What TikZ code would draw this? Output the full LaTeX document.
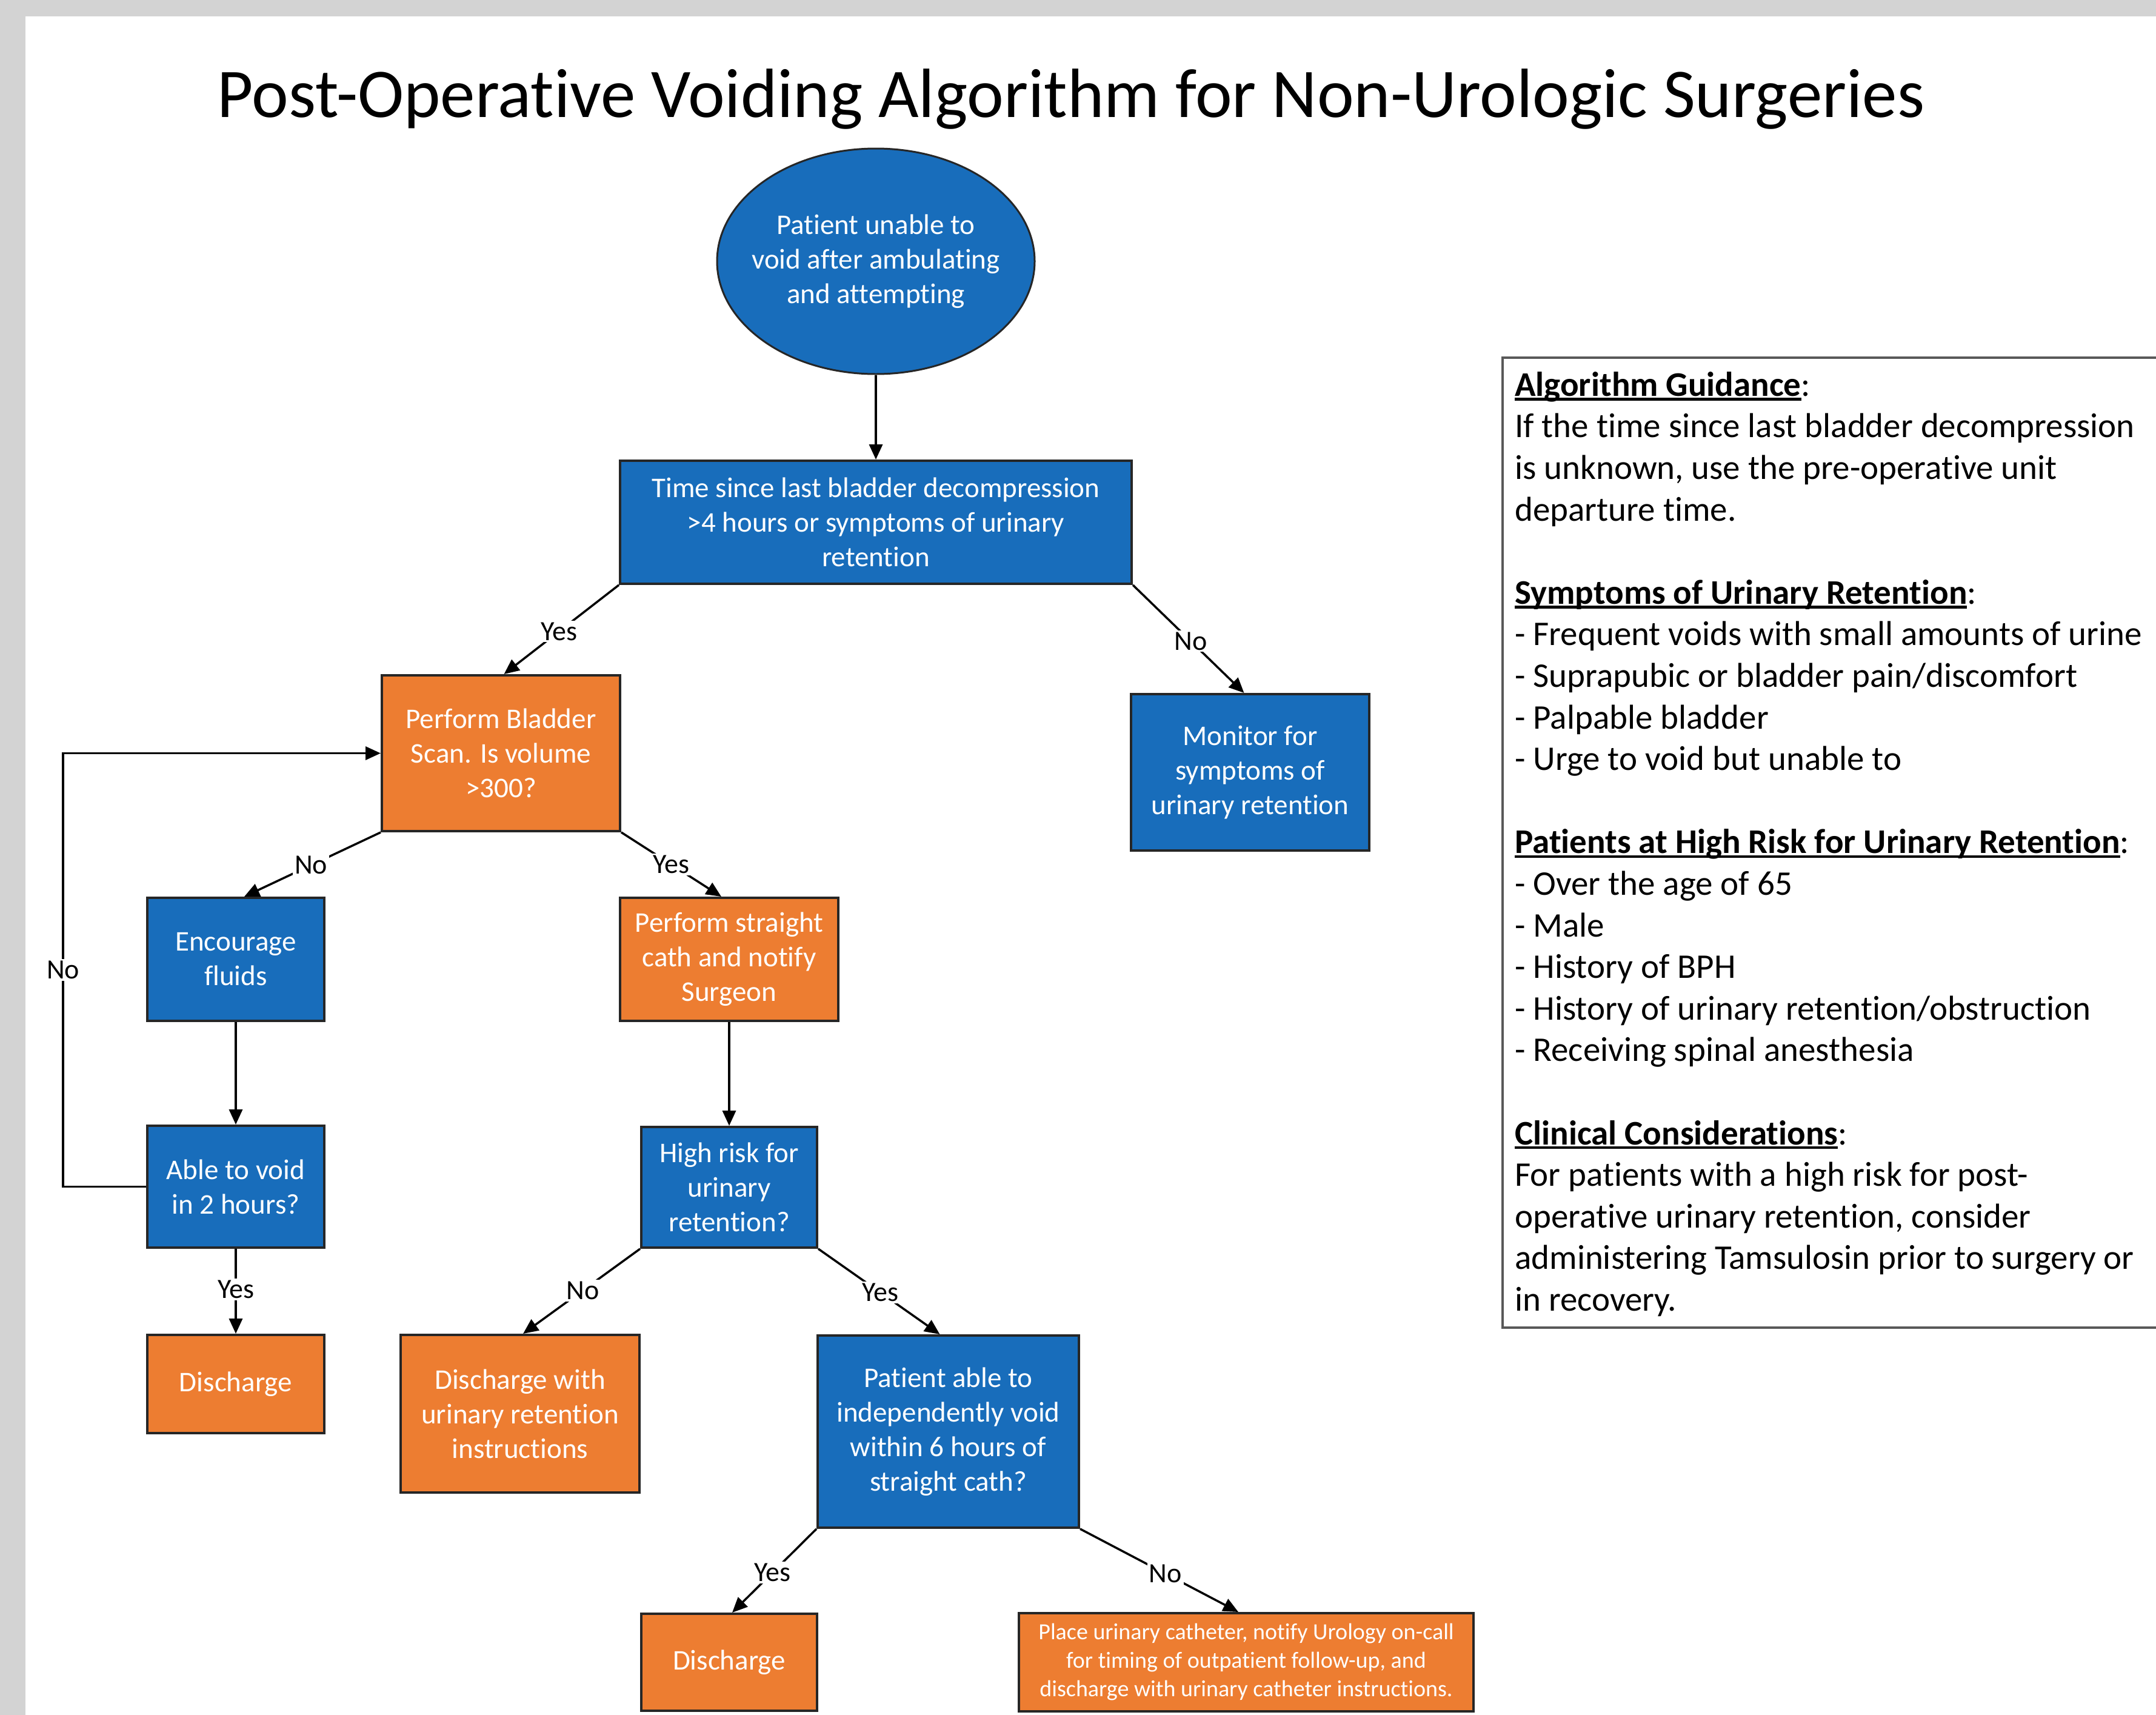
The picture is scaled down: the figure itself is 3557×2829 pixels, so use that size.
\documentclass[tikz,border=0pt]{standalone}
\usepackage{fontspec}
\setmainfont{Carlito}[Ligatures=NoCommon]
\usetikzlibrary{arrows.meta,shapes.geometric}
\definecolor{boxblue}{HTML}{186DBB}
\definecolor{boxorange}{HTML}{ED7D31}
\definecolor{pagegray}{HTML}{D3D3D3}
\newsavebox\hulbox
\newcommand\hul[1]{\sbox\hulbox{#1}\rlap{\rule[-0.13em]{\wd\hulbox}{0.075em}}\usebox\hulbox}
\begin{document}
\begin{tikzpicture}[x=1pt,y=-1pt,
  box/.style={draw=black!85, line width=4pt, text=white, align=center, inner sep=0pt, font=\fontsize{47}{57}\selectfont},
  bluebox/.style={box, fill=boxblue},
  orbox/.style={box, fill=boxorange},
  arr/.style={line width=3.5pt, -{Triangle[length=25pt,width=22pt]}},
  lbl/.style={fill=white, inner sep=3pt, font=\fontsize{46}{55}\selectfont, text=black},
]
\useasboundingbox (0,0) rectangle (3557,2829);
\clip (0,0) rectangle (3557,2829);
\fill[pagegray] (0,0) rectangle (3557,2829);
\fill[white] (42,27) rectangle (3557,2829);

% title
\node[anchor=base, inner sep=0pt, font=\fontsize{115}{130}\selectfont] (title) at (1767,193) {Post-Operative Voiding Algorithm for Non-Urologic Surgeries};

% nodes
\node[ellipse, draw=black!85, line width=3pt, fill=boxblue, minimum width=524pt, minimum height=372pt, inner sep=0pt] (ell) at (1445,431) {};
\node[text=white, align=center, inner sep=0pt, font=\fontsize{47}{57}\selectfont] (ellt) at (ell.center) {Patient unable to\\void after ambulating\\and attempting};
\node[bluebox, minimum width=844pt, minimum height=203pt] (b1) at (1445,861.5) {Time since last bladder decompression\\>4 hours or symptoms of urinary\\retention};
\node[orbox, minimum width=393pt, minimum height=257pt] (scan) at (826.5,1242.5) {Perform Bladder\\Scan. Is volume\\>300?};
\node[bluebox, minimum width=393pt, minimum height=258pt] (mon) at (2062.5,1274) {Monitor for\\symptoms of\\urinary retention};
\node[bluebox, minimum width=292pt, minimum height=203pt] (enc) at (389,1582.5) {Encourage\\fluids};
\node[orbox, minimum width=360pt, minimum height=203pt] (cath) at (1203,1582.5) {Perform straight\\cath and notify\\Surgeon};
\node[bluebox, minimum width=292pt, minimum height=201pt] (able) at (389,1957.5) {Able to void\\in 2 hours?};
\node[bluebox, minimum width=290pt, minimum height=199pt] (risk) at (1203,1958.5) {High risk for\\urinary\\retention?};
\node[orbox, minimum width=292pt, minimum height=162pt] (dis1) at (389,2283) {Discharge};
\node[orbox, minimum width=394pt, minimum height=260pt] (disw) at (858,2332) {Discharge with\\urinary retention\\instructions};
\node[bluebox, minimum width=431pt, minimum height=317pt] (pat) at (1564.5,2361.5) {Patient able to\\independently void\\within 6 hours of\\straight cath?};
\node[orbox, minimum width=750pt, minimum height=162pt, font=\fontsize{38}{47}\selectfont] (place) at (2056,2742) {Place urinary catheter, notify Urology on-call\\for timing of outpatient follow-up, and\\discharge with urinary catheter instructions.};
\node[orbox, minimum width=290pt, minimum height=160pt] (dis2) at (1203,2742) {Discharge};

% connectors
\draw[arr] (ell.south) -- (b1.north);
\draw[arr] (b1.south west) -- node[lbl,pos=0.52]{Yes} ([xshift=5pt]scan.north);
\draw[arr] (b1.south east) -- node[lbl,pos=0.52]{No} ([xshift=-10pt]mon.north);
\draw[arr] (scan.south west) -- node[lbl,pos=0.51]{No} ([xshift=14pt]enc.north);
\draw[arr] (scan.south east) -- node[lbl,pos=0.5]{Yes} ([xshift=-13pt]cath.north);
\draw[arr] (enc.south) -- (able.north);
\draw[arr] (cath.south) -- (risk.north);
\coordinate (lp) at (104,1957.5);
\draw[arr] (able.west) -- (lp) |- node[lbl,pos=0.25]{No} (scan.west);
\draw[arr] (able.south) -- node[lbl,pos=0.48]{Yes} (dis1.north);
\draw[arr] (risk.south west) -- node[lbl,pos=0.49]{No} ([xshift=5pt]disw.north);
\draw[arr] (risk.south east) -- node[lbl,pos=0.51]{Yes} ([xshift=-14pt]pat.north);
\draw[arr] (pat.south west) -- node[lbl,pos=0.52]{Yes} ([xshift=5pt]dis2.north);
\draw[arr] (pat.south east) -- node[lbl,pos=0.54]{No} ([xshift=-13pt]place.north);

% guidance box
\draw[line width=4pt, draw=black!65] (2479,590) rectangle (3640,2190);
\node[anchor=north west, inner sep=0pt, align=left, font=\fontsize{57}{68.6}\selectfont] (guide) at (2499,613) {%
\textbf{\hul{Algorithm Guidance}}:\\
If the time since last bladder decompression\\
is unknown, use the pre-operative unit\\
departure time.\\[68.6pt]
\textbf{\hul{Symptoms of Urinary Retention}}:\\
- Frequent voids with small amounts of urine\\
- Suprapubic or bladder pain/discomfort\\
- Palpable bladder\\
- Urge to void but unable to\\[68.6pt]
\textbf{\hul{Patients at High Risk for Urinary Retention}}:\\
- Over the age of 65\\
- Male\\
- History of BPH\\
- History of urinary retention/obstruction\\
- Receiving spinal anesthesia\\[68.6pt]
\textbf{\hul{Clinical Considerations}}:\\
For patients with a high risk for post-\\
operative urinary retention, consider\\
administering Tamsulosin prior to surgery or\\
in recovery.};
\end{tikzpicture}
\end{document}
